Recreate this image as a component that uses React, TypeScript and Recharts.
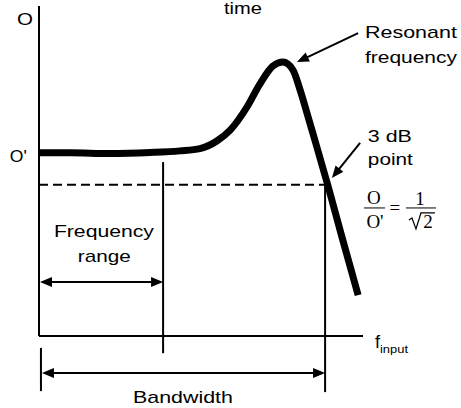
import React from 'react';
import { LineChart, Line, XAxis, YAxis, ReferenceLine, ReferenceDot } from 'recharts';

// response curve, both axes in % of their length
const freq = [0.3, 9.6, 21.9, 34.3, 43.5, 49.7, 54.9, 59.0, 64.2, 68.2, 72.2, 75.3, 78.4, 80.6, 82.7, 84.6, 89.2, 93.5, 98.5];
const output = [55.5, 55.5, 55.3, 55.6, 56.1, 56.8, 59.1, 62.4, 69.4, 76.4, 81.8, 83.0, 80.6, 74.5, 67.6, 61.2, 45.5, 30.0, 12.4];

// key points of the diagram
const cutoffLevel = 45.8; // O = O'/sqrt(2)
const rangeEnd = 38.3;
const bandEnd = 88.3;
const peak = { f: 79.6, o: 83.0 };
const cutoff = { f: 90.4, o: 47.9 };

// text notes: text, x, baseline y, stretched width
const noteText = ['O', "O'", 'time', 'Resonant', 'frequency', '3 dB', 'point', 'Frequency', 'range', 'Bandwidth'];
const noteX = [-6.8, -9.0, 57.1, 100.6, 100.6, 101.5, 101.5, 4.6, 12.0, 29.0];
const noteY = [94.2, 52.7, 97.6, 90.3, 82.7, 58.8, 51.8, 30.0, 22.4, -20.3];
const noteW = [16, 17, 38, 92, 92, 44, 45, 100, 53, 100];

const data = freq.map((f, i) => ({ f, o: output[i] }));

const SANS = '"Liberation Sans", Arial, sans-serif';
const SERIF = '"Liberation Serif", "Times New Roman", serif';

function head(x: number, y: number, dx: number, dy: number) {
  const len = Math.hypot(dx, dy) || 1;
  const ux = dx / len;
  const uy = dy / len;
  const L = 12;
  const W = 5;
  const bx = x - ux * L;
  const by = y - uy * L;
  return `${x},${y} ${bx - uy * W},${by + ux * W} ${bx + uy * W},${by - ux * W}`;
}

const arrow = (both: boolean) => (p: any) => {
  const { x1, y1, x2, y2 } = p;
  const dx = x2 - x1;
  const dy = y2 - y1;
  const len = Math.hypot(dx, dy) || 1;
  const sx = both ? x1 + (dx / len) * 10 : x1;
  const sy = both ? y1 + (dy / len) * 10 : y1;
  return (
    <g>
      <line x1={sx} y1={sy} x2={x2 - (dx / len) * 10} y2={y2 - (dy / len) * 10} stroke="#000" strokeWidth={2} />
      <polygon points={head(x2, y2, dx, dy)} fill="#000" />
      {both && <polygon points={head(x1, y1, -dx, -dy)} fill="#000" />}
    </g>
  );
};

const note = (i: number) => (
  <ReferenceDot
    key={'n' + i}
    x={noteX[i]}
    y={noteY[i]}
    r={0}
    ifOverflow="visible"
    shape={(p: any) => (
      <text x={p.cx} y={p.cy} textLength={noteW[i]} lengthAdjust="spacingAndGlyphs" fontFamily={SANS} fontSize={17} fill="#000">
        {noteText[i]}
      </text>
    )}
  />
);

const fInput = (p: any) => (
  <text x={p.cx} y={p.cy} fontFamily={SANS} fill="#000">
    <tspan fontSize={18}>f</tspan>
    <tspan fontSize={11} dy={5} textLength={28} lengthAdjust="spacingAndGlyphs">input</tspan>
  </text>
);

const formula = (p: any) => {
  const x = p.cx;
  const y = p.cy;
  return (
    <g fontFamily={SERIF} fontSize={19} fill="#000">
      <text x={x + 10} y={y - 4} textAnchor="middle">O</text>
      <line x1={x} y1={y} x2={x + 21} y2={y} stroke="#000" strokeWidth={1} />
      <text x={x + 11} y={y + 20} textAnchor="middle">O'</text>
      <text x={x + 31} y={y + 6} textAnchor="middle">=</text>
      <text x={x + 56} y={y - 3} textAnchor="middle">1</text>
      <line x1={x + 42} y1={y} x2={x + 72} y2={y} stroke="#000" strokeWidth={1} />
      <path d={`M${x + 45} ${y + 12} L${x + 48} ${y + 10} L${x + 52} ${y + 21} L${x + 57} ${y + 5} L${x + 71} ${y + 5}`} stroke="#000" strokeWidth={1.2} fill="none" />
      <text x={x + 64} y={y + 20} textAnchor="middle">2</text>
    </g>
  );
};

export default function App() {
  return (
    <div style={{ position: 'absolute', left: 0, top: 0, background: '#fff' }}>
      <LineChart width={461} height={408} data={data} margin={{ top: 6, right: 98, bottom: 72, left: 39 }}>
        <XAxis type="number" dataKey="f" domain={[0, 100]} allowDataOverflow hide />
        <YAxis type="number" domain={[0, 100]} allowDataOverflow hide />
        {/* axes */}
        <ReferenceLine segment={[{ x: 0, y: 0 }, { x: 0, y: 100 }]} stroke="#000" strokeWidth={2} ifOverflow="visible" />
        <ReferenceLine segment={[{ x: 0, y: 0 }, { x: 100, y: 0 }]} stroke="#000" strokeWidth={2} ifOverflow="visible" />
        <ReferenceLine
          segment={[{ x: 0, y: cutoffLevel }, { x: 89.6, y: cutoffLevel }]}
          stroke="#000"
          strokeWidth={2}
          strokeDasharray="9 5"
          ifOverflow="visible"
        />
        <ReferenceLine segment={[{ x: rangeEnd, y: 52.7 }, { x: rangeEnd, y: -5.2 }]} stroke="#000" strokeWidth={2} ifOverflow="visible" />
        <ReferenceLine segment={[{ x: bandEnd, y: cutoffLevel }, { x: bandEnd, y: -17 }]} stroke="#000" strokeWidth={2} ifOverflow="visible" />
        <ReferenceLine segment={[{ x: 0.6, y: -3.6 }, { x: 0.6, y: -16.7 }]} stroke="#000" strokeWidth={2} ifOverflow="visible" />
        <ReferenceLine segment={[{ x: 0.3, y: 16.4 }, { x: rangeEnd, y: 16.4 }]} ifOverflow="visible" shape={arrow(true)} />
        <ReferenceLine segment={[{ x: 0.9, y: -11.2 }, { x: bandEnd, y: -11.2 }]} ifOverflow="visible" shape={arrow(true)} />
        <ReferenceLine segment={[{ x: 98.5, y: 91.8 }, { x: peak.f, y: peak.o }]} ifOverflow="visible" shape={arrow(false)} />
        <ReferenceLine segment={[{ x: 99.1, y: 58.5 }, { x: cutoff.f, y: cutoff.o }]} ifOverflow="visible" shape={arrow(false)} />
        <Line
          type="monotone"
          dataKey="o"
          stroke="#000"
          strokeWidth={7}
          dot={false}
          activeDot={false}
          isAnimationActive={false}
        />
        {noteText.map((_, i) => note(i))}
        <ReferenceDot x={103.7} y={-3.6} r={0} ifOverflow="visible" shape={fInput} />
        <ReferenceDot x={100.3} y={38.8} r={0} ifOverflow="visible" shape={formula} />
      </LineChart>
    </div>
  );
}
